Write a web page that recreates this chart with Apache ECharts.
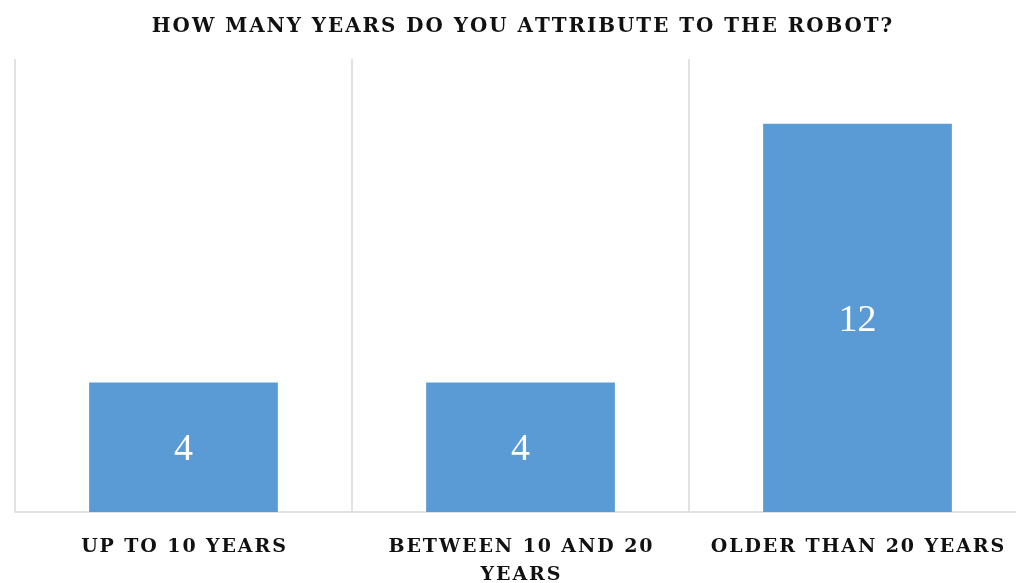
<!DOCTYPE html>
<html>
<head>
<meta charset="utf-8">
<script src="https://cdn.jsdelivr.net/npm/echarts@6/dist/echarts.min.js"></script>
<style>
  html, body { margin: 0; padding: 0; background: #fff; }
  #chart { width: 1016px; height: 583px; }
</style>
</head>
<body>
<div id="chart"></div>
<script>
  // chart data
  const categories = ['UP TO 10 YEARS', 'BETWEEN 10 AND 20\nYEARS', 'OLDER THAN 20 YEARS'];
  const counts = [4, 4, 12];
  const titleText = 'HOW MANY YEARS DO YOU ATTRIBUTE TO THE ROBOT?';

  const serif = '"DejaVu Serif", "Liberation Serif", serif';
  // canvas text has no letter-spacing, so put hair spaces between letters
  const spaced = s => s.split('\n').map(l => l.split('').join('\u200A')).join('\n');

  const chart = echarts.init(document.getElementById('chart'));
  chart.setOption({
    animation: false,
    title: {
      text: spaced(titleText),
      left: 517,
      top: 12,
      textAlign: 'center',
      textStyle: {
        fontFamily: serif,
        fontWeight: 'bold',
        fontSize: 19.9,
        color: '#111'
      }
    },
    grid: {
      left: 15,
      width: 1011,
      top: 59,
      bottom: 71,
      containLabel: false,
      outerBoundsMode: 'none'
    },
    xAxis: {
      type: 'category',
      data: categories,
      axisLine: { show: true, lineStyle: { color: '#d9d9d9', width: 1.5 } },
      axisTick: { show: false },
      splitLine: { show: true, lineStyle: { color: '#d9d9d9', width: 1.5 } },
      axisLabel: {
        interval: 0,
        margin: 21,
        fontFamily: serif,
        fontWeight: 'bold',
        fontSize: 19,
        lineHeight: 28,
        color: '#111',
        formatter: v => spaced(v)
      }
    },
    yAxis: {
      type: 'value',
      min: 0,
      max: 14,
      show: false
    },
    series: [{
      type: 'bar',
      data: counts,
      barWidth: '56%',
      itemStyle: { color: '#5b9bd5' },
      label: {
        show: true,
        position: 'inside',
        offset: [0, 3],
        fontFamily: '"Liberation Serif", serif',
        fontSize: 38,
        color: '#fff'
      }
    }]
  });
</script>
</body>
</html>
